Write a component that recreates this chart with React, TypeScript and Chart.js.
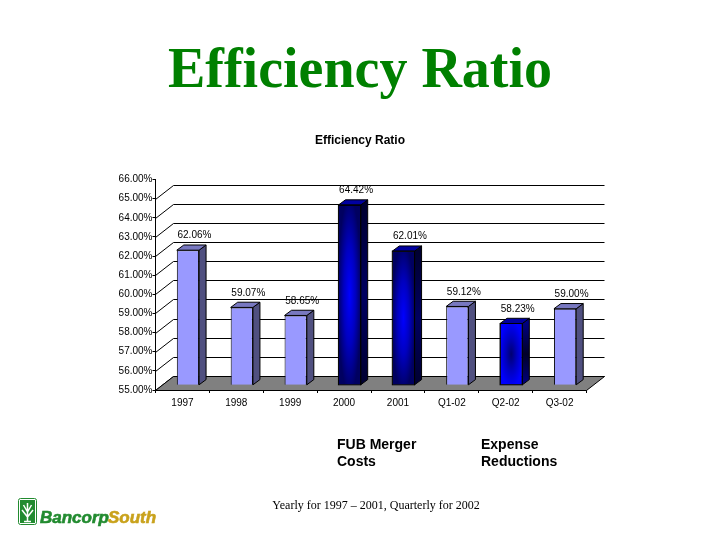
import React, { useEffect, useRef } from "react";
import { Chart, registerables } from "chart.js";

Chart.register(...registerables);

const categories = ["1997", "1998", "1999", "2000", "2001", "Q1-02", "Q2-02", "Q3-02"];
const ratioValues = [62.06, 59.07, 58.65, 64.42, 62.01, 59.12, 58.23, 59.0];
const valueLabels = ["62.06%", "59.07%", "58.65%", "64.42%", "62.01%", "59.12%", "58.23%", "59.00%"];
const backWallLevels = [55, 56, 57, 58, 59, 60, 61, 62, 63, 64, 65];
const brightCentreBars = ["2000", "2001"];
const darkCentreBars = ["Q2-02"];
const axisMin = 55;
const axisMax = 66;

const DEPTH_X = 18;
const DEPTH_Y = 14;
const BAR_SHIFT_X = 5.5;
const BAR_SHIFT_Y = 4.7;
const BAR_SIDE_X = 7;
const BAR_SIDE_Y = 5.2;

function ovalFill(ctx: CanvasRenderingContext2D, x0: number, y0: number, w: number, h: number, inner: string, mid: string, outer: string) {
  ctx.save();
  ctx.beginPath();
  ctx.rect(x0, y0, w, h);
  ctx.clip();
  ctx.translate(x0 + w / 2, y0 + h / 2);
  ctx.scale(w / 2, h / 2);
  const g = ctx.createRadialGradient(0, 0, 0, 0, 0, 1.1);
  g.addColorStop(0, inner);
  g.addColorStop(0.5, mid);
  g.addColorStop(1, outer);
  ctx.fillStyle = g;
  ctx.fillRect(-1, -1, 2, 2);
  ctx.restore();
}

const scenePlugin = {
  id: "scene3d",
  beforeDatasetsDraw(chart: any) {
    const ctx: CanvasRenderingContext2D = chart.ctx;
    const y = chart.scales.y;
    const { left, right, bottom } = chart.chartArea;
    ctx.save();
    ctx.strokeStyle = "#000";
    ctx.lineWidth = 1;
    // back wall lines and wall diagonals
    for (const v of backWallLevels) {
      const py = Math.round(y.getPixelForValue(v)) + 0.5;
      ctx.beginPath();
      ctx.moveTo(left, py);
      ctx.lineTo(left + DEPTH_X, py - DEPTH_Y);
      ctx.lineTo(right + DEPTH_X, py - DEPTH_Y);
      ctx.stroke();
    }
    // floor
    const fy = Math.round(bottom) + 0.5;
    ctx.fillStyle = "#808080";
    ctx.beginPath();
    ctx.moveTo(left, fy);
    ctx.lineTo(left + DEPTH_X, fy - DEPTH_Y);
    ctx.lineTo(right + DEPTH_X, fy - DEPTH_Y);
    ctx.lineTo(right, fy);
    ctx.closePath();
    ctx.fill();
    ctx.stroke();
    ctx.restore();

    // side and top faces of the bars
    const meta = chart.getDatasetMeta(0);
    meta.data.forEach((bar: any, i: number) => {
      const name = categories[i];
      const dark = brightCentreBars.includes(name) || darkCentreBars.includes(name);
      const hw = bar.width / 2;
      const xl = bar.x - hw + BAR_SHIFT_X;
      const xr = bar.x + hw + BAR_SHIFT_X;
      const yt = bar.y - BAR_SHIFT_Y;
      const yb = bar.base - BAR_SHIFT_Y;
      ctx.save();
      ctx.strokeStyle = "#000";
      ctx.lineWidth = 1;
      ctx.lineJoin = "round";
      ctx.beginPath();
      ctx.moveTo(xr, yt);
      ctx.lineTo(xr + BAR_SIDE_X, yt - BAR_SIDE_Y);
      ctx.lineTo(xr + BAR_SIDE_X, yb - BAR_SIDE_Y);
      ctx.lineTo(xr, yb);
      ctx.closePath();
      if (dark) {
        const g = ctx.createLinearGradient(0, yt, 0, yb);
        const mid = darkCentreBars.includes(name) ? "#00002a" : "#000060";
        const edge = darkCentreBars.includes(name) ? "#000080" : "#000030";
        g.addColorStop(0, edge);
        g.addColorStop(0.5, mid);
        g.addColorStop(1, edge);
        ctx.fillStyle = g;
      } else {
        ctx.fillStyle = "#505080";
      }
      ctx.fill();
      ctx.stroke();
      ctx.beginPath();
      ctx.moveTo(xl, yt);
      ctx.lineTo(xl + BAR_SIDE_X, yt - BAR_SIDE_Y);
      ctx.lineTo(xr + BAR_SIDE_X, yt - BAR_SIDE_Y);
      ctx.lineTo(xr, yt);
      ctx.closePath();
      ctx.fillStyle = dark ? "#0000a0" : "#7878c0";
      ctx.fill();
      ctx.stroke();
      ctx.restore();
    });

    ctx.save();
    ctx.translate(BAR_SHIFT_X, -BAR_SHIFT_Y);
  },
  afterDatasetsDraw(chart: any) {
    const ctx: CanvasRenderingContext2D = chart.ctx;
    const meta = chart.getDatasetMeta(0);
    meta.data.forEach((bar: any, i: number) => {
      const name = categories[i];
      const x0 = bar.x - bar.width / 2;
      const w = bar.width;
      const h = bar.base - bar.y;
      if (brightCentreBars.includes(name)) {
        ovalFill(ctx, x0 + 0.5, bar.y + 0.5, w - 1, h - 1, "#0000ff", "#0000c0", "#000060");
      } else if (darkCentreBars.includes(name)) {
        ovalFill(ctx, x0 + 0.5, bar.y + 0.5, w - 1, h - 1, "#000070", "#0000c0", "#0000ff");
      }
      if (brightCentreBars.includes(name) || darkCentreBars.includes(name)) {
        ctx.save();
        ctx.strokeStyle = "#000";
        ctx.strokeRect(x0, bar.y, w, h);
        ctx.restore();
      }
    });
    ctx.restore();

    // value labels above the bars
    ctx.save();
    ctx.fillStyle = "#000";
    ctx.font = '10px "Liberation Sans"';
    ctx.textAlign = "center";
    ctx.textBaseline = "middle";
    meta.data.forEach((bar: any, i: number) => {
      ctx.fillText(valueLabels[i], bar.x + 12, bar.y - 19.2);
    });

    // notes
    ctx.textAlign = "left";
    ctx.textBaseline = "middle";
    ctx.font = 'bold 14px "Liberation Sans"';
    ctx.fillText("FUB Merger", 337, 445.5);
    ctx.fillText("Costs", 337, 462.5);
    ctx.fillText("Expense", 481, 445.5);
    ctx.fillText("Reductions", 481, 462.5);
    ctx.font = '12px "Liberation Serif"';
    ctx.textAlign = "center";
    ctx.fillText("Yearly for 1997 – 2001, Quarterly for 2002", 376, 505.5);

    // logo
    const green = "#228b30";
    ctx.fillStyle = "#fff";
    ctx.strokeStyle = green;
    ctx.lineWidth = 1;
    ctx.beginPath();
    ctx.roundRect(18.5, 498.5, 18, 26, 2);
    ctx.stroke();
    ctx.fillStyle = green;
    ctx.fillRect(20, 500, 15, 23);
    ctx.strokeStyle = "#fff";
    ctx.lineWidth = 1.5;
    ctx.beginPath();
    ctx.moveTo(27.5, 521);
    ctx.lineTo(27.5, 503);
    ctx.moveTo(27.5, 517);
    ctx.lineTo(22, 510);
    ctx.moveTo(27.5, 517);
    ctx.lineTo(33, 510);
    ctx.moveTo(27.5, 512);
    ctx.lineTo(23.5, 505);
    ctx.moveTo(27.5, 512);
    ctx.lineTo(31.5, 505);
    ctx.moveTo(24, 521.5);
    ctx.lineTo(31, 521.5);
    ctx.stroke();
    ctx.font = 'italic bold 17px "Liberation Sans"';
    ctx.textAlign = "left";
    ctx.textBaseline = "alphabetic";
    ctx.lineWidth = 0.6;
    ctx.fillStyle = green;
    ctx.strokeStyle = green;
    ctx.fillText("Bancorp", 40, 523);
    ctx.strokeText("Bancorp", 40, 523);
    ctx.fillStyle = "#c9a21c";
    ctx.strokeStyle = "#c9a21c";
    ctx.fillText("South", 108, 523);
    ctx.strokeText("South", 108, 523);
    ctx.restore();
  },
};

export default function App() {
  const ref = useRef<HTMLCanvasElement | null>(null);
  useEffect(() => {
    const chart = new Chart(ref.current as HTMLCanvasElement, {
      type: "bar",
      data: {
        labels: categories,
        datasets: [
          {
            label: "Efficiency Ratio",
            data: ratioValues,
            base: axisMin,
            yAxisID: "y",
            backgroundColor: categories.map((c) =>
              brightCentreBars.includes(c) || darkCentreBars.includes(c) ? "#000080" : "#9999ff"
            ),
            borderColor: "#000",
            borderWidth: 1,
            barPercentage: 0.413,
            categoryPercentage: 1,
            clip: false,
          } as any,
        ],
      },
      options: {
        responsive: false,
        animation: false,
        layout: { padding: 0 },
        plugins: {
          legend: { display: false },
          tooltip: { enabled: false },
          title: {
            display: true,
            text: "Efficiency Ratio",
            color: "#008000",
            font: { family: '"Liberation Serif"', size: 56, weight: "bold", lineHeight: 1.2 },
            padding: { top: 39, bottom: 27.5 },
          },
          subtitle: {
            display: true,
            text: "Efficiency Ratio",
            color: "#000",
            font: { family: '"Liberation Sans"', size: 12, weight: "bold", lineHeight: 1.2 },
            padding: { top: 0, bottom: 31.4 },
          },
        },
        scales: {
          x: {
            grid: { drawOnChartArea: false, color: "#000", tickLength: 3 },
            border: { color: "#000" },
            ticks: { color: "#000", font: { family: '"Liberation Sans"', size: 10 }, padding: 4, maxRotation: 0 },
            afterFit(scale: any) {
              scale.height = 150;
            },
          },
          y: {
            min: axisMin,
            max: axisMax,
            grid: { drawOnChartArea: false, color: "#000", tickLength: 3 },
            border: { color: "#000" },
            ticks: {
              stepSize: 1,
              color: "#000",
              padding: 0,
              font: { family: '"Liberation Sans"', size: 10 },
              callback: (v: any) => Number(v).toFixed(2) + "%",
            },
            afterFit(scale: any) {
              scale.width = 155.5;
            },
          },
          spacer: {
            position: "right",
            display: true,
            grid: { display: false },
            border: { display: false },
            ticks: { display: false },
            afterFit(scale: any) {
              scale.width = 133.5;
            },
          },
        },
      },
      plugins: [scenePlugin],
    } as any);
    return () => chart.destroy();
  }, []);
  return (
    <div style={{ position: "absolute", left: 0, top: 0, width: 720, height: 540, background: "#fff" }}>
      <canvas ref={ref} width={720} height={540} style={{ display: "block" }} />
    </div>
  );
}
